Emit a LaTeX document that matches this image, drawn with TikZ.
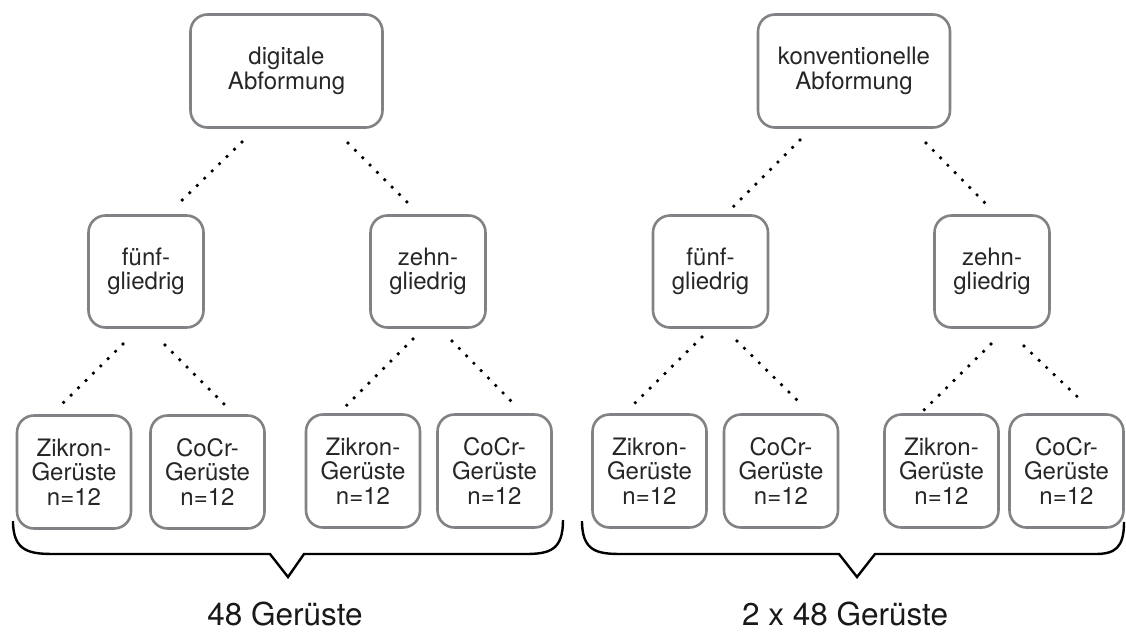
\documentclass[tikz,border=0pt]{standalone}
\usepackage{fontspec}
\setmainfont{TeX Gyre Heros}
\begin{document}
\begin{tikzpicture}[x=1pt,y=-1pt,
  box/.style={draw=boxgray, line width=2.6pt, rounded corners=17pt, align=center,
    inner sep=0pt, font=\fontsize{24}{24.5}\selectfont, text=black!85},
  topbox/.style={box, minimum width=192pt, minimum height=113pt},
  midbox/.style={box, minimum width=115pt, minimum height=112pt},
  leafbox/.style={box, minimum width=114pt, minimum height=113pt},
  dotline/.style={line width=3.7pt, line cap=round, dash pattern=on 0pt off 10.4pt},
  bracestyle/.style={line width=2.4pt, black},
  sumlabel/.style={font=\fontsize{31.5}{33}\selectfont, text=black!90, anchor=base}
]
\definecolor{boxgray}{HTML}{808285}
\useasboundingbox (0,0) rectangle (1126,632);

% top boxes
\node[topbox] (dig) at (286.5,71) {digitale\\Abformung};
\node[topbox] (kon) at (854,71) {konventionelle\\Abformung};

% middle boxes
\node[midbox] (f1) at (146,271.5) {fünf-\\gliedrig};
\node[midbox] (z1) at (428,271.5) {zehn-\\gliedrig};
\node[midbox] (f2) at (710.5,271.5) {fünf-\\gliedrig};
\node[midbox] (z2) at (992,271.5) {zehn-\\gliedrig};

% leaf boxes
\node[leafbox] (l1) at (74,472) {Zikron-\\Gerüste\\n=12};
\node[leafbox] (l2) at (207.5,472) {CoCr-\\Gerüste\\n=12};
\node[leafbox] (l3) at (363,471) {Zikron-\\Gerüste\\n=12};
\node[leafbox] (l4) at (494.5,471) {CoCr-\\Gerüste\\n=12};
\node[leafbox] (l5) at (649.5,471) {Zikron-\\Gerüste\\n=12};
\node[leafbox] (l6) at (781,471) {CoCr-\\Gerüste\\n=12};
\node[leafbox] (l7) at (941.5,471) {Zikron-\\Gerüste\\n=12};
\node[leafbox] (l8) at (1066.5,471) {CoCr-\\Gerüste\\n=12};

% connector end points
\coordinate (digA) at (242,142); \coordinate (f1A) at (175,207);
\coordinate (digB) at (348,143); \coordinate (z1A) at (408,203);
\coordinate (konA) at (800,140); \coordinate (f2A) at (733,207);
\coordinate (konB) at (926,143); \coordinate (z2A) at (985,203);

\coordinate (f1B) at (123,344); \coordinate (l1A) at (60,406);
\coordinate (f1C) at (165,345); \coordinate (l2A) at (225,405);
\coordinate (z1B) at (413,339); \coordinate (l3A) at (346,406);
\coordinate (z1C) at (452,341); \coordinate (l4A) at (511,401);
\coordinate (f2B) at (702,337); \coordinate (l5A) at (634,404);
\coordinate (f2C) at (737,341); \coordinate (l6A) at (797,400);
\coordinate (z2B) at (991,344); \coordinate (l7A) at (924,410);
\coordinate (z2C) at (1024,346); \coordinate (l8A) at (1084,403);

\foreach \a/\b in {digA/f1A, digB/z1A, konA/f2A, konB/z2A,
  f1B/l1A, f1C/l2A, z1B/l3A, z1C/l4A, f2B/l5A, f2C/l6A, z2B/l7A, z2C/l8A}
  \draw[dotline] (\a) -- (\b);

% braces
\coordinate (bLs) at (13,521);
\coordinate (bLt) at (288,577);
\coordinate (bLe) at (563,520);
\draw[bracestyle, line join=miter] (bLs) .. controls (13,552) and (30,554) .. (55,554)
  -- (270,554) -- (bLt) -- (304,554) -- (525,554)
  .. controls (550,554) and (563,550) .. (bLe);

\coordinate (bRs) at (582,521);
\coordinate (bRt) at (857,577);
\coordinate (bRe) at (1124,522);
\draw[bracestyle, line join=miter] (bRs) .. controls (582,552) and (598,554) .. (622,554)
  -- (839,554) -- (bRt) -- (875,554) -- (1095,554)
  .. controls (1115,554) and (1124,548) .. (bRe);

% sums
\node[sumlabel] (s1) at (285,625) {48 Gerüste};
\node[sumlabel] (s2) at (845,625) {2 x 48 Gerüste};
\end{tikzpicture}
\end{document}
